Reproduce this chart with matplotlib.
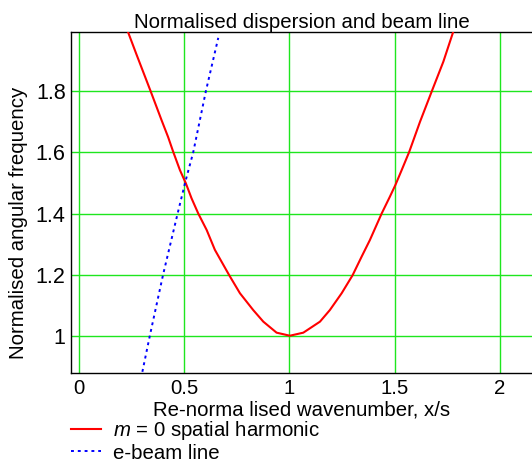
import matplotlib
matplotlib.use('Agg')
import matplotlib.pyplot as plt

plt.rcParams['font.family'] = ['Liberation Sans', 'DejaVu Sans']
plt.rcParams['mathtext.fontset'] = 'custom'
plt.rcParams['mathtext.it'] = 'Liberation Sans:italic'
plt.rcParams['mathtext.rm'] = 'Liberation Sans'

# m = 0 spatial harmonic
disp_x = [0.221, 0.234, 0.274, 0.341, 0.393, 0.424, 0.448, 0.480, 0.508,
          0.535, 0.567, 0.607, 0.646, 0.714, 0.765, 0.828, 0.876, 0.939,
          1.002, 1.066, 1.145, 1.192, 1.248, 1.300, 1.343, 1.382, 1.438,
          1.477, 1.503, 1.533, 1.569, 1.620, 1.676, 1.731, 1.777, 1.792]
disp_y = [2.02, 1.993, 1.92, 1.80, 1.705, 1.65, 1.602, 1.542, 1.499,
          1.450, 1.40, 1.346, 1.281, 1.198, 1.139, 1.084, 1.046, 1.010,
          1.0, 1.010, 1.046, 1.084, 1.139, 1.198, 1.259, 1.313, 1.40,
          1.455, 1.493, 1.542, 1.602, 1.70, 1.80, 1.897, 1.993, 2.02]

# e-beam line
beam_x = [0.295, 0.337, 0.400, 0.469, 0.508, 0.543, 0.603, 0.662]
beam_y = [0.86, 1.0, 1.2, 1.4, 1.51, 1.6, 1.8, 1.975]

xticks = [0, 0.5, 1, 1.5, 2]
xtick_labels = ['0', '0.5', '1', '1.5', '2']
yticks = [1, 1.2, 1.4, 1.6, 1.8]
ytick_labels = ['1', '1.2', '1.4', '1.6', '1.8']

fs = 14.7

fig = plt.figure(figsize=(5.32, 4.62), dpi=100)
ax = fig.add_axes([0.134, 0.192, 0.866, 0.738])

ax.plot(disp_x, disp_y, color='red', lw=1.5, label='$m$ = 0 spatial harmonic', zorder=3)
ax.plot(beam_x, beam_y, color='blue', lw=1.4, dashes=(1.5, 2),
        label='e-beam line', zorder=3)

ax.set_xlim(-0.036, 2.152)
ax.set_ylim(0.877, 1.993)
ax.set_xticks(xticks)
ax.set_xticklabels(xtick_labels)
ax.set_yticks(yticks)
ax.set_yticklabels(ytick_labels)
ax.tick_params(length=0, pad=4)
ax.tick_params(axis='x', labelsize=fs)
ax.tick_params(axis='y', labelsize=15.5)
ax.grid(True, color='#1ee61e', lw=1.0)
ax.set_axisbelow(True)

for s in ['left', 'bottom', 'top']:
    ax.spines[s].set_color('black')
    ax.spines[s].set_linewidth(1.0)
ax.spines['right'].set_visible(False)

ax.set_title('Normalised dispersion and beam line', fontsize=fs, pad=2)
ax.set_xlabel('Re-norma lised wavenumber, x/s', fontsize=fs, labelpad=2)
ax.set_ylabel('Normalised angular frequency', fontsize=fs)
ax.yaxis.set_label_coords(-0.095, 0.44)

fig.legend(loc='upper left', bbox_to_anchor=(0.134, 0.092), frameon=False,
           fontsize=fs, handlelength=1.47, handletextpad=0.57, labelspacing=0.05,
           borderaxespad=0, borderpad=0)

fig.savefig('out.png', dpi=100)
